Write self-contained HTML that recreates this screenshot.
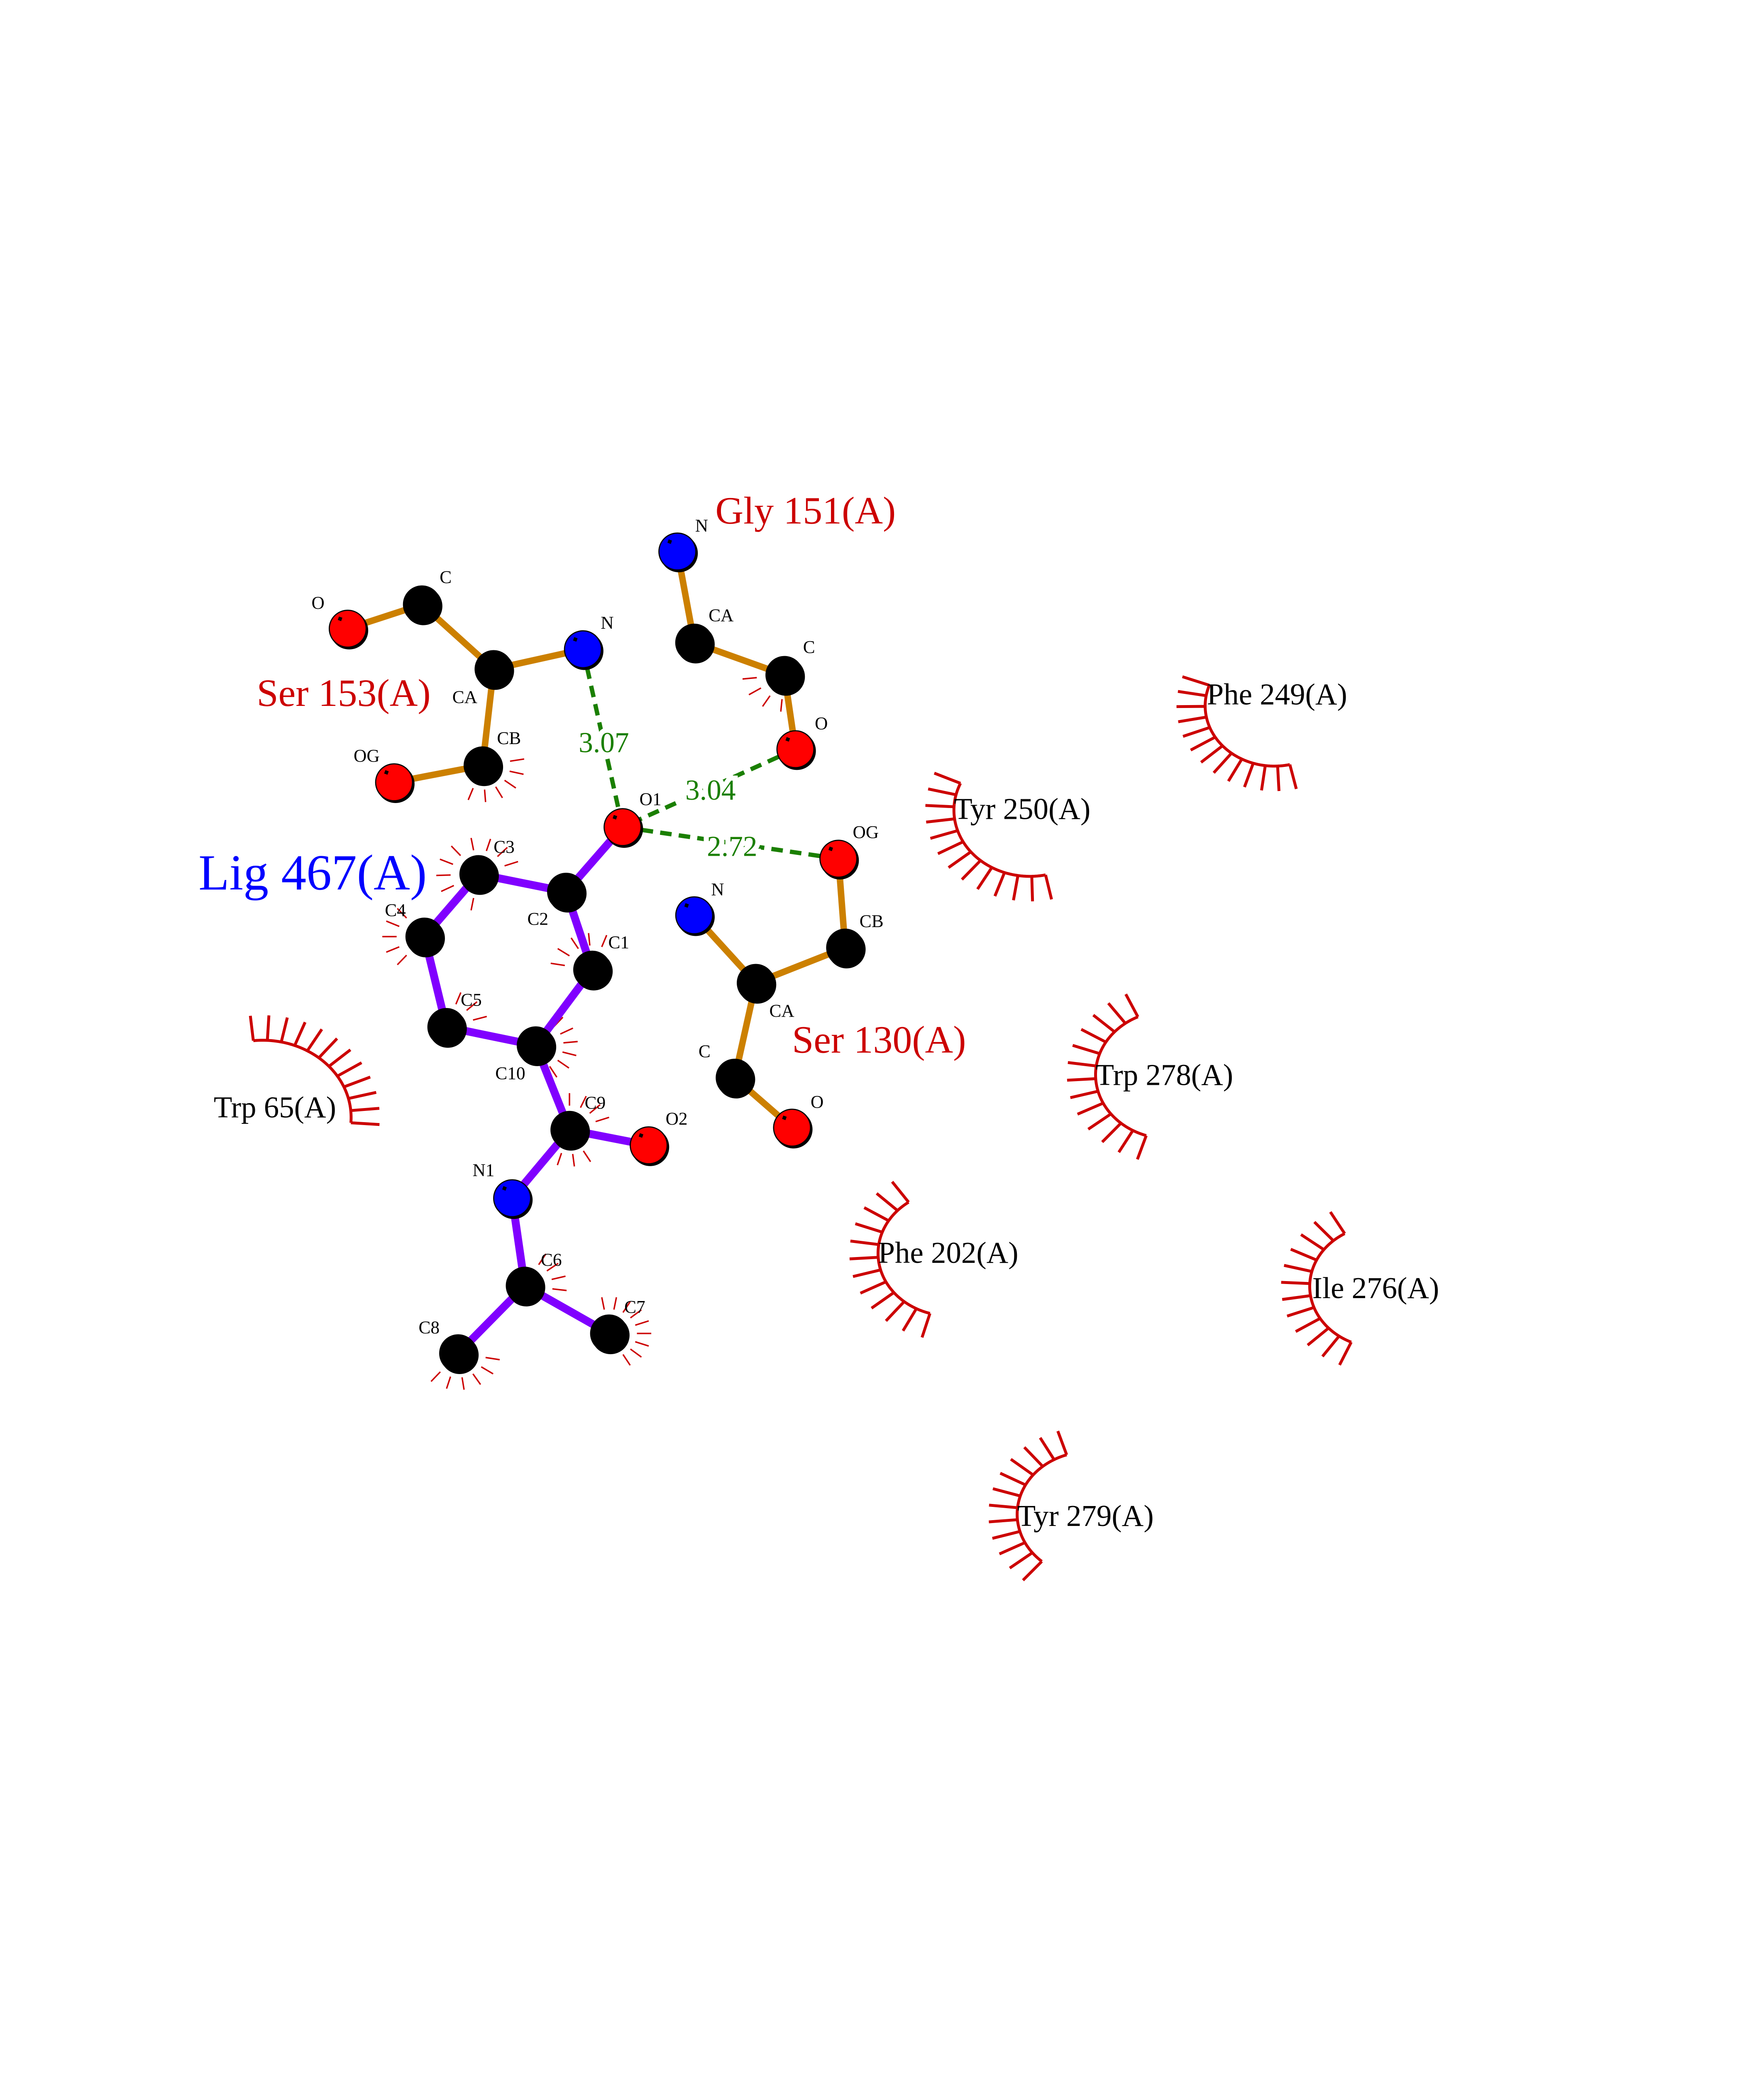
<!DOCTYPE html>
<html><head><meta charset="utf-8">
<style>
html,body{margin:0;padding:0;background:#fff;width:4250px;height:5500px;overflow:hidden;}
svg{display:block;position:absolute;left:0;top:0;}
text{font-family:"Liberation Serif",serif;}
</style></head>
<body>
<svg id="s" xmlns="http://www.w3.org/2000/svg" width="4250" height="5500" viewBox="0 0 1224 1584">
<rect width="1224" height="1584" fill="#fff"/>
<g id="g"></g>
<circle cx="60" cy="1468" r="1.6" fill="#000"/>
</svg>
<script>
(function(){
var SX=0.585, SY=0.51, OX=432-547*SX, OY=574-485*SY;
function X(x){return OX+x*SX;} function Y(y){return OY+y*SY;}
var out=[];
function line(x1,y1,x2,y2,c,w,extra){out.push('<line x1="'+X(x1).toFixed(2)+'" y1="'+Y(y1).toFixed(2)+'" x2="'+X(x2).toFixed(2)+'" y2="'+Y(y2).toFixed(2)+'" stroke="'+c+'" stroke-width="'+w+'" '+(extra||'')+'/>');}
function txt(x,y,s,size,c){out.push('<text x="'+X(x).toFixed(2)+'" y="'+Y(y).toFixed(2)+'" font-size="'+size+'" fill="'+c+'">'+s+'</text>');}
function rad(a){return a*Math.PI/180;}
function arc(cx,cy,r,a1,a2,n){
  var pts=[];for(var i=0;i<=60;i++){var a=rad(a1+(a2-a1)*i/60);pts.push(X(cx+r*Math.cos(a)).toFixed(2)+','+Y(cy+r*Math.sin(a)).toFixed(2));}
  out.push('<polyline points="'+pts.join(' ')+'" fill="none" stroke="#cc0000" stroke-width="2"/>');
  for(var j=0;j<n;j++){var a=rad(a1+(a2-a1)*j/(n-1));var c=Math.cos(a),s=Math.sin(a);
    line(cx+r*c,cy+r*s,cx+(r+34)*c,cy+(r+34)*s,'#cc0000',2,'stroke-linecap="butt"');}
}
arc(1320,320,82,77,200,13);
arc(1030,462,90,78,204,13);
arc(1195,822,87,108,245,13);
arc(935,1065,85,106,235,12);
arc(1445,1110,83,114,240,12);
arc(1100,1420,85,131,252,12);
arc(120,880,105,-96,4,12);
function spk(cx,cy,a1,a2,n){for(var j=0;j<n;j++){var a=rad(a1+(a2-a1)*j/(n-1));var c=Math.cos(a),s=Math.sin(a);
  line(cx+33*c,cy+33*s,cx+50*c,cy+50*s,'#cc0000',1);}}
var L={O1:[547,485],C2:[480,573],C3:[376,549],C4:[312,634],C5:[338,757],C10:[444,782],C1:[511,679],C9:[484,897],O2:[578,918],N1:[416,990],C6:[431,1109],C8:[352,1201],C7:[531,1174]};
spk(376,549,-100,-20,4);spk(376,549,100,230,6);
spk(312,634,130,230,5);
spk(381,401,-10,110,6);
spk(739,278,95,200,5);
spk(511,679,190,290,5);
spk(338,757,-70,10,4);
spk(444,782,-50,60,6);
spk(484,897,-90,-20,4);spk(484,897,60,130,4);
spk(431,1109,-60,30,5);
spk(531,1174,-100,60,9);
spk(352,1201,10,130,6);
var P='#8000ff',O='#cc8000';
[['O1','C2'],['C2','C3'],['C3','C4'],['C4','C5'],['C5','C10'],['C10','C1'],['C1','C2'],['C10','C9'],['C9','O2'],['C9','N1'],['N1','C6'],['C6','C8'],['C6','C7']].forEach(function(b){var a=L[b[0]],c=L[b[1]];line(a[0],a[1],c[0],c[1],P,5.5);});
var R=[
 [[221,215],[309,182],[394,270],[500,243],[381,401],[276,424]],
 [[612,110],[632,234],[739,278],[752,379]],
 [[803,528],[811,649],[705,697],[632,605],[680,826],[748,894]]];
[[0,1],[1,2],[2,3],[2,4],[4,5]].forEach(function(b){var a=R[0][b[0]],c=R[0][b[1]];line(a[0],a[1],c[0],c[1],O,4.5);});
[[0,1],[1,2],[2,3]].forEach(function(b){var a=R[1][b[0]],c=R[1][b[1]];line(a[0],a[1],c[0],c[1],O,4.5);});
[[0,1],[1,2],[2,3],[2,4],[4,5]].forEach(function(b){var a=R[2][b[0]],c=R[2][b[1]];line(a[0],a[1],c[0],c[1],O,4.5);});
var G='#1a7f00';
[[500,243],[752,379],[803,528]].forEach(function(p){line(p[0],p[1],547,485,G,3,'stroke-dasharray="8,5"');});
function atom(p,col){var x=X(p[0]),y=Y(p[1]);
 out.push('<circle cx="'+(x+1).toFixed(2)+'" cy="'+(y+1.2).toFixed(2)+'" r="13.2" fill="#000"/>');
 out.push('<circle cx="'+x.toFixed(2)+'" cy="'+y.toFixed(2)+'" r="12.8" fill="'+col+'" stroke="#000" stroke-width="0.8"/>');
 out.push('<rect x="'+(x-6.5).toFixed(2)+'" y="'+(y-8).toFixed(2)+'" width="2.5" height="2.5" fill="#000" transform="rotate(20 '+(x-5).toFixed(2)+' '+(y-7).toFixed(2)+')"/>');}
var K='#000',RE='#ff0000',B='#0000ff';
atom(L.O1,RE);atom(L.C2,K);atom(L.C3,K);atom(L.C4,K);atom(L.C5,K);atom(L.C10,K);atom(L.C1,K);atom(L.C9,K);atom(L.O2,RE);atom(L.N1,B);atom(L.C6,K);atom(L.C8,K);atom(L.C7,K);
atom(R[0][0],RE);atom(R[0][1],K);atom(R[0][2],K);atom(R[0][3],B);atom(R[0][4],K);atom(R[0][5],RE);
atom(R[1][0],B);atom(R[1][1],K);atom(R[1][2],K);atom(R[1][3],RE);
atom(R[2][0],RE);atom(R[2][1],K);atom(R[2][2],K);atom(R[2][3],B);atom(R[2][4],K);atom(R[2][5],RE);
var A=12.5;
[[178,188,'O'],[330,153,'C'],[345,316,'CA'],[521,215,'N'],[398,372,'CB'],[228,396,'OG'],
 [633,83,'N'],[649,205,'CA'],[761,248,'C'],[775,352,'O'],[567,455,'O1'],[820,500,'OG'],[828,621,'CB'],
 [652,578,'N'],[721,743,'CA'],[637,798,'C'],[770,867,'O'],[394,520,'C3'],[265,606,'C4'],[434,618,'C2'],
 [530,650,'C1'],[355,728,'C5'],[396,828,'C10'],[502,868,'C9'],[598,890,'O2'],[369,960,'N1'],[450,1082,'C6'],
 [549,1146,'C7'],[305,1174,'C8']].forEach(function(t){txt(t[0],t[1],t[2],A,'#000');});
// distance labels (display coords, break the dashed line)
[[419,522,'3.07'],[493,555,'3.04'],[508,594,'2.72']].forEach(function(t){
 out.push('<text x="'+t[0]+'" y="'+t[1]+'" font-size="20" text-anchor="middle" fill="'+G+'" stroke="#fff" stroke-width="7" paint-order="stroke">'+t[2]+'</text>');});
var RR='#cc0000';
txt(657,72,'Gly 151(A)',27,RR);txt(113,320,'Ser 153(A)',27,RR);txt(748,792,'Ser 130(A)',27,RR);
txt(44,570,'Lig 467(A)',35,'#0000ff');
[[1240,318,'Phe 249(A)'],[940,474,'Tyr 250(A)'],[1108,836,'Trp 278(A)'],[850,1078,'Phe 202(A)'],[1365,1126,'Ile 276(A)'],[1015,1436,'Tyr 279(A)'],[62,880,'Trp 65(A)']].forEach(function(t){txt(t[0],t[1],t[2],21,'#000');});
document.getElementById('g').innerHTML=out.join('');
})();
</script>
</body></html>
